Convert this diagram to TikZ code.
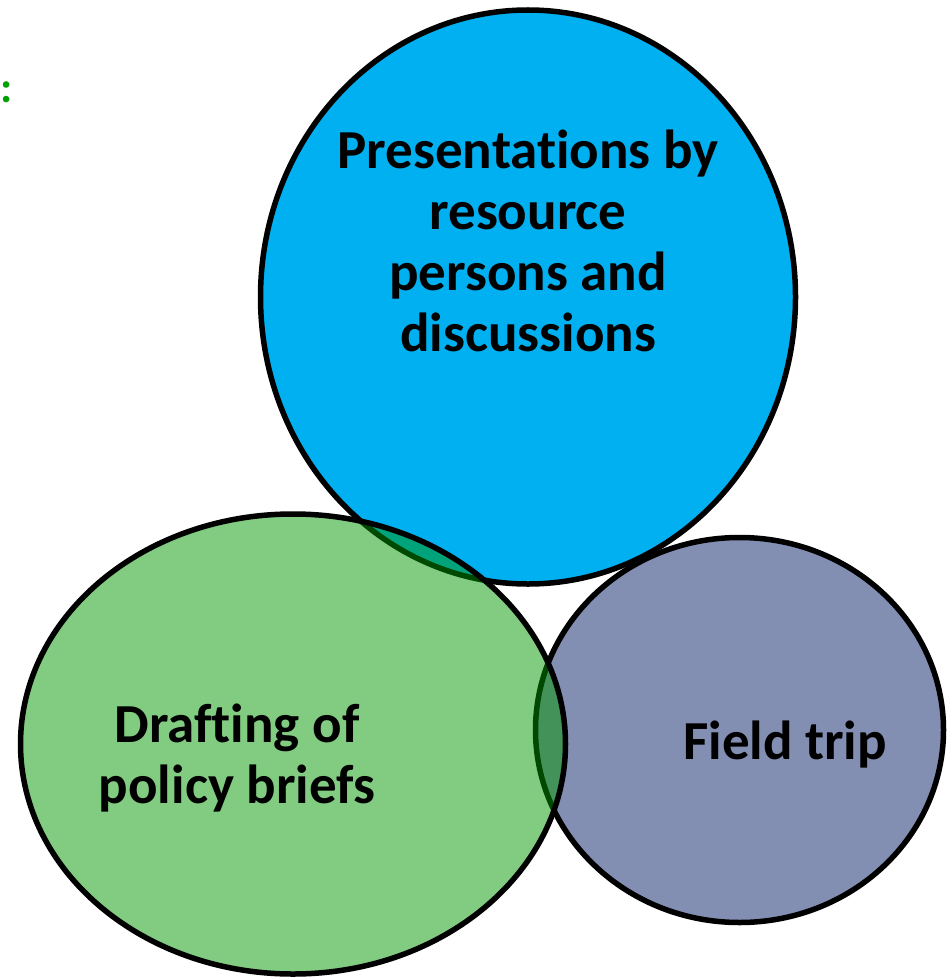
\documentclass[tikz,border=0pt]{standalone}
\usepackage{fontspec}
\setmainfont{Carlito}[Ligatures={NoCommon}]
\usetikzlibrary{shapes.geometric}
\definecolor{cblue}{RGB}{0,176,240}
\definecolor{cgrey}{RGB}{130,143,178}
\definecolor{cgreen}{RGB}{0,150,0}
\definecolor{ccolon}{RGB}{0,160,0}
\tikzset{
  blob/.style={ellipse, draw=black, line width=5.5pt, inner sep=0pt},
  lbl/.style={align=center, font=\fontsize{55}{61}\selectfont\bfseries, text=black, inner sep=0pt}
}
\begin{document}
\begin{tikzpicture}[x=1pt,y=-1pt]
\useasboundingbox (0,0) rectangle (948,979);
\node[blob, fill=cblue, minimum width=535pt, minimum height=574pt] (pres) at (528,297) {};
\node[blob, fill=cgrey, minimum width=408pt, minimum height=385pt] (field) at (739.5,730) {};
\node[blob, fill=cgreen, fill opacity=0.49, minimum width=545pt, minimum height=460pt] (draft) at (293,744) {};
\node[lbl] (prest) at (528,241) {Presentations by\\resource\\persons and\\discussions};
\node[lbl] (draftt) at (237,758) {Drafting of\\policy briefs};
\node[lbl] (fieldt) at (785,745) {Field trip};
\node[font=\fontsize{44}{44}\selectfont\bfseries, text=ccolon, inner sep=0pt] (colon) at (7,92) {:};
\end{tikzpicture}
\end{document}
